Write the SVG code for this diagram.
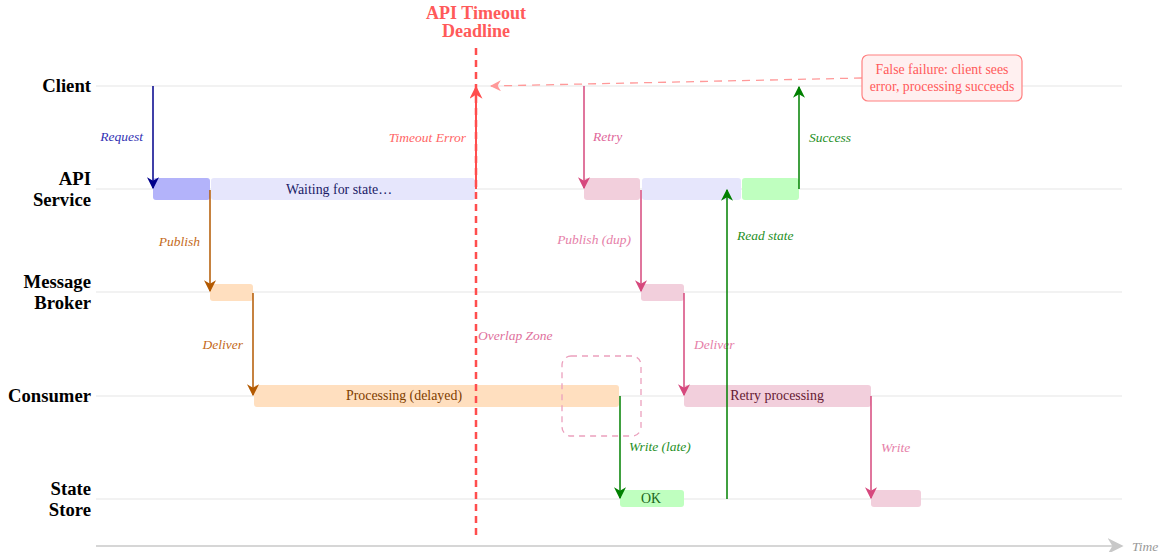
<svg xmlns="http://www.w3.org/2000/svg" width="1161" height="552" viewBox="0 0 1161 552">
<style>
text{font-family:"Liberation Serif","Times New Roman",serif}
.lane{stroke:#e6e6e6;stroke-width:1.2}
.lbl{font-size:18.7px;font-weight:bold;fill:#000;text-anchor:end}
.it{font-size:13.5px;font-style:italic}
.bt{font-size:13.9px;text-anchor:middle}
.a{fill:none;stroke-width:1.5}
</style>
<defs>
<marker id="mNavy" markerUnits="userSpaceOnUse" markerWidth="12" markerHeight="12" refX="9" refY="5" orient="auto" viewBox="0 0 10 10"><path d="M0,0 L10,5 L0,10 L3,5 z" fill="#00008b"/></marker>
<marker id="mOrange" markerUnits="userSpaceOnUse" markerWidth="12" markerHeight="12" refX="9" refY="5" orient="auto" viewBox="0 0 10 10"><path d="M0,0 L10,5 L0,10 L3,5 z" fill="#b35900"/></marker>
<marker id="mPink" markerUnits="userSpaceOnUse" markerWidth="12" markerHeight="12" refX="9" refY="5" orient="auto" viewBox="0 0 10 10"><path d="M0,0 L10,5 L0,10 L3,5 z" fill="#d6487d"/></marker>
<marker id="mGreen" markerUnits="userSpaceOnUse" markerWidth="12" markerHeight="12" refX="9" refY="5" orient="auto" viewBox="0 0 10 10"><path d="M0,0 L10,5 L0,10 L3,5 z" fill="#008000"/></marker>
<marker id="mRed" markerUnits="userSpaceOnUse" markerWidth="13" markerHeight="13" refX="9" refY="5" orient="auto" viewBox="0 0 10 10"><path d="M0,0 L10,5 L0,10 L3,5 z" fill="#ff4d4d"/></marker>
<marker id="mLightRed" markerUnits="userSpaceOnUse" markerWidth="11" markerHeight="11" refX="9" refY="5" orient="auto" viewBox="0 0 10 10"><path d="M0,0 L10,5 L0,10 L3,5 z" fill="#ff9999"/></marker>
<marker id="mGray" markerUnits="userSpaceOnUse" markerWidth="16" markerHeight="16" refX="9" refY="5" orient="auto" viewBox="0 0 10 10"><path d="M0,0 L10,5 L0,10 L3,5 z" fill="#c8c8c8"/></marker>
</defs>

<g id="lanes">
<line class="lane" x1="96" y1="86" x2="1122" y2="86"/>
<line class="lane" x1="96" y1="189" x2="1122" y2="189"/>
<line class="lane" x1="96" y1="292" x2="1122" y2="292"/>
<line class="lane" x1="96" y1="396" x2="1122" y2="396"/>
<line class="lane" x1="96" y1="499" x2="1122" y2="499"/>
</g>

<g id="lane-labels">
<text class="lbl" x="91" y="92">Client</text>
<text class="lbl" x="91" y="185">API</text>
<text class="lbl" x="91" y="206">Service</text>
<text class="lbl" x="91" y="288">Message</text>
<text class="lbl" x="91" y="309">Broker</text>
<text class="lbl" x="91" y="402">Consumer</text>
<text class="lbl" x="91" y="495">State</text>
<text class="lbl" x="91" y="516">Store</text>
</g>

<g id="time-axis">
<line x1="96" y1="546" x2="1122" y2="546" stroke="#c8c8c8" stroke-width="1.5" marker-end="url(#mGray)"/>
<text class="it" x="1132" y="551" fill="#999">Time</text>
</g>

<g id="bars">
<g id="api-request"><rect x="153" y="178" width="57" height="22" rx="3" fill="#b3b3fa"/></g>
<g id="api-waiting"><rect x="211" y="178" width="264" height="22" rx="3" fill="#e6e6fc"/><text class="bt" x="339" y="194" fill="#1a1a66">Waiting for state…</text></g>
<g id="api-retry"><rect x="584" y="178" width="56" height="22" rx="3" fill="#f2cfdc"/></g>
<g id="api-wait2"><rect x="642" y="178" width="99" height="22" rx="3" fill="#e6e6fc"/></g>
<g id="api-success"><rect x="742" y="178" width="57" height="22" rx="3" fill="#bfffbf"/></g>
<g id="broker-1"><rect x="210" y="284" width="43" height="17" rx="3" fill="#ffdfbf"/></g>
<g id="broker-2"><rect x="641" y="284" width="43" height="17" rx="3" fill="#f2cfdc"/></g>
<g id="consumer-processing"><rect x="254" y="385" width="365" height="22" rx="3" fill="#ffdfbf"/><text class="bt" x="404" y="400" fill="#804000">Processing (delayed)</text></g>
<g id="consumer-retry"><rect x="684" y="385" width="187" height="22" rx="3" fill="#f2cfdc"/><text class="bt" x="777" y="400" fill="#661a33">Retry processing</text></g>
<g id="store-ok"><rect x="620" y="490" width="64" height="17" rx="3" fill="#bfffbf"/><text class="bt" x="651" y="503" fill="#1a661a">OK</text></g>
<g id="store-write"><rect x="871" y="490" width="50" height="17" rx="3" fill="#f2cfdc"/></g>
</g>

<g id="overlap-zone">
<rect x="562" y="356" width="79" height="80" rx="9" fill="none" stroke="#eba0bd" stroke-width="1.3" stroke-dasharray="6,5"/>
<text class="it" x="478" y="340" fill="#e0709c">Overlap Zone</text>
</g>

<g id="deadline">
<line x1="476" y1="48" x2="476" y2="536" stroke="#ff4d4d" stroke-width="2.5" stroke-dasharray="7,5"/>
<text x="476" y="19" font-size="18" font-weight="bold" fill="#ff5a5a" text-anchor="middle">API Timeout</text>
<text x="476" y="37" font-size="18" font-weight="bold" fill="#ff5a5a" text-anchor="middle">Deadline</text>
</g>

<g id="connectors">
<line class="a" x1="153" y1="86" x2="153" y2="188" stroke="#00008b" marker-end="url(#mNavy)"/>
<text class="it" x="143" y="141" fill="#3333b3" text-anchor="end">Request</text>

<line class="a" x1="210" y1="190" x2="210" y2="291" stroke="#b35900" marker-end="url(#mOrange)"/>
<text class="it" x="200" y="246" fill="#c46a1a" text-anchor="end">Publish</text>

<line class="a" x1="253" y1="293" x2="253" y2="395" stroke="#b35900" marker-end="url(#mOrange)"/>
<text class="it" x="243" y="349" fill="#c46a1a" text-anchor="end">Deliver</text>

<line x1="476" y1="189" x2="476" y2="87" stroke="#ff4d4d" stroke-width="2" marker-end="url(#mRed)"/>
<text class="it" x="466" y="142" fill="#ff6666" text-anchor="end">Timeout Error</text>

<line class="a" x1="584" y1="86" x2="584" y2="188" stroke="#d6487d" marker-end="url(#mPink)"/>
<text class="it" x="593" y="141" fill="#e0669a">Retry</text>

<line class="a" x1="641" y1="190" x2="641" y2="291" stroke="#d6487d" marker-end="url(#mPink)"/>
<text class="it" x="631" y="244" fill="#e680a8" text-anchor="end">Publish (dup)</text>

<line class="a" x1="684" y1="293" x2="684" y2="395" stroke="#d6487d" marker-end="url(#mPink)"/>
<text class="it" x="694" y="349" fill="#e680a8">Deliver</text>

<line class="a" x1="620" y1="396" x2="620" y2="498" stroke="#008000" marker-end="url(#mGreen)"/>
<text class="it" x="629" y="451" fill="#1f8f1f">Write (late)</text>

<line class="a" x1="871" y1="396" x2="871" y2="498" stroke="#d6487d" marker-end="url(#mPink)"/>
<text class="it" x="881" y="452" fill="#e680a8">Write</text>

<line class="a" x1="727" y1="499" x2="727" y2="190" stroke="#008000" marker-end="url(#mGreen)"/>
<text class="it" x="737" y="240" fill="#1f8f1f">Read state</text>

<line class="a" x1="799" y1="189" x2="799" y2="87" stroke="#008000" marker-end="url(#mGreen)"/>
<text class="it" x="809" y="142" fill="#1f8f1f">Success</text>

<line x1="862" y1="78" x2="491" y2="86" stroke="#ff9999" stroke-width="1.3" stroke-dasharray="8,6" marker-end="url(#mLightRed)"/>
</g>

<g id="false-failure-note">
<rect x="862" y="55" width="160" height="46" rx="6" fill="#fff0f0" stroke="#ff8080" stroke-width="1.2"/>
<text x="942" y="74" font-size="13.8" fill="#ff5a5a" text-anchor="middle">False failure: client sees</text>
<text x="942" y="91" font-size="13.8" fill="#ff5a5a" text-anchor="middle">error, processing succeeds</text>
</g>
</svg>
